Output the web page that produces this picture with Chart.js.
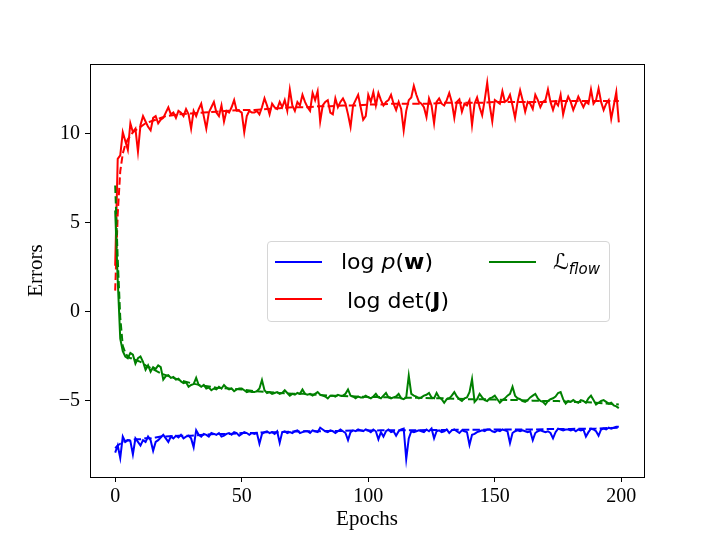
<!DOCTYPE html>
<html>
<head>
<meta charset="utf-8">
<script src="https://cdn.jsdelivr.net/npm/chart.js@4.4.1/dist/chart.umd.min.js"></script>
<style>
  html, body { margin: 0; padding: 0; background: #ffffff; }
  #wrap { position: relative; width: 716px; height: 537px; }
  #legendBox { position: absolute; left: 267px; top: 241px; width: 343px; height: 81px;
    border: 1px solid #d6d6d6; border-radius: 4px; background: rgba(255,255,255,0.8); box-sizing: border-box; }
  .lh { position: absolute; height: 2px; }
  .lt { position: absolute; font-family: "DejaVu Sans", sans-serif; font-size: 22px; line-height: 24px; color: #000; white-space: nowrap; }
  .lt sub { font-size: 15px; vertical-align: -5px; }
</style>
</head>
<body>
<div id="wrap">
  <canvas id="c" width="716" height="537"></canvas>
  <div id="legendBox"></div>
</div>
<script>
// ---------------- data ----------------
const nEpochs = 200;
const epochs = Array.from({ length: nEpochs }, (_, i) => i);

const logDetJ = [
  2.6, 8.6, 8.8, 10.1, 9.6, 9.1, 10.6, 10.1, 10.3, 9.0,
  10.5, 11.0, 10.7, 10.4, 10.2, 10.9, 11.0, 10.6, 10.8, 10.9,
  11.2, 11.5, 11.1, 11.2, 10.9, 11.3, 11.2, 11.0, 11.4, 11.1,
  10.3, 11.3, 11.0, 11.4, 11.7, 11.0, 10.3, 11.2, 11.5, 11.8,
  11.2, 11.0, 11.6, 10.7, 11.3, 11.2, 11.5, 11.9, 11.3, 11.3,
  11.2, 10.1, 11.0, 11.3, 11.2, 11.2, 11.3, 11.1, 11.5, 12.0,
  11.6, 11.1, 11.7, 11.5, 11.4, 11.8, 11.5, 11.9, 11.3, 12.5,
  11.6, 11.3, 11.8, 11.6, 12.2, 11.8, 11.5, 11.3, 12.3, 11.9,
  12.4, 10.7, 11.6, 11.8, 11.9, 11.2, 11.1, 12.0, 11.5, 11.8,
  12.0, 11.7, 11.1, 10.4, 11.6, 11.9, 12.2, 11.5, 10.8, 11.0,
  12.2, 11.8, 12.35, 11.6, 12.3, 11.9, 11.6, 11.8, 11.9, 12.2,
  11.7, 11.35, 11.8, 11.4, 10.2, 11.3, 11.9, 12.05, 12.7, 12.2,
  11.8, 11.7, 11.5, 10.95, 12.0, 11.6, 10.6, 11.8, 12.0, 11.7,
  11.6, 11.9, 12.3, 11.8, 10.9, 11.8, 11.95, 11.25, 11.7, 11.6,
  11.9, 10.5, 11.7, 12.05, 11.5, 11.05, 11.9, 12.88, 11.6, 10.7,
  11.9, 11.8, 11.7, 12.4, 11.8, 11.9, 12.2, 11.6, 10.9, 11.8,
  12.45, 11.9, 11.25, 11.8, 11.7, 11.4, 12.2, 11.9, 11.5, 11.8,
  11.9, 12.5, 11.8, 11.35, 11.8, 11.6, 12.2, 11.1, 11.7, 12.1,
  11.8, 11.35, 11.7, 12.1, 11.8, 11.5, 11.8, 11.7, 12.5, 11.7,
  11.9, 12.55, 11.8, 11.35, 11.7, 11.9, 10.85, 11.6, 12.35, 10.65
];

const lossFlow = [
  5.7, 1.8, -1.5, -2.2, -2.5, -2.6, -2.3, -2.4, -2.9, -2.6,
  -2.5, -2.8, -3.25, -3.0, -3.35, -3.1, -3.2, -3.0, -3.1, -3.8,
  -3.6, -3.55, -3.7, -3.65, -3.8, -3.75, -3.9, -4.0, -3.95, -4.2,
  -4.1, -4.05, -3.7, -4.1, -4.2, -4.1, -4.3, -4.25, -4.4, -4.3,
  -4.35, -4.2, -4.3, -4.1, -4.25, -4.35, -4.3, -4.45, -4.35, -4.3,
  -4.3, -4.4, -4.5, -4.45, -4.5, -4.5, -4.45, -4.3, -3.82, -4.4,
  -4.55, -4.5, -4.6, -4.55, -4.5, -4.6, -4.55, -4.4, -4.55, -4.7,
  -4.6, -4.65, -4.55, -4.6, -4.35, -4.6, -4.65, -4.6, -4.7, -4.6,
  -4.5, -4.65, -4.7, -4.75, -4.85, -4.7, -4.7, -4.75, -4.65, -4.7,
  -4.7, -4.6, -4.35, -4.7, -4.75, -4.85, -4.75, -4.8, -4.8, -4.7,
  -4.8, -4.85, -4.75, -4.6, -4.8, -4.85, -4.7, -4.55, -4.8, -4.85,
  -4.8, -4.75, -4.6, -4.85, -4.9, -4.8, -3.58, -4.6, -4.7, -4.75,
  -4.85, -4.8, -4.7, -4.65, -4.55, -4.8, -4.85, -4.55, -4.8, -4.9,
  -5.1, -4.9, -4.85, -4.7, -4.5, -4.75, -4.9, -5.0, -4.85, -4.8,
  -4.5, -3.77, -5.05, -4.9, -4.6, -4.8, -4.95, -5.0, -4.85, -4.8,
  -4.7, -4.9, -5.1, -4.95, -4.85, -4.7, -4.6, -4.2, -4.7, -4.85,
  -4.9, -5.0, -5.05, -4.95, -4.8, -4.7, -4.6, -4.85, -5.0, -5.05,
  -5.2, -5.0, -4.9, -4.85, -4.75, -4.55, -4.5, -4.9, -5.15, -5.0,
  -5.05, -4.95, -5.05, -5.1, -4.95, -5.0, -5.1, -4.85, -4.7, -4.95,
  -5.2, -5.1, -5.0, -4.95, -5.05, -5.15, -5.1, -5.25, -5.3, -5.4
];

const logPw = [
  -7.9, -7.5, -8.2, -7.0, -7.3, -7.2, -7.25, -8.0, -7.1, -7.3,
  -7.5, -7.2, -7.3, -7.0, -7.2, -7.8, -7.3, -7.2, -7.05, -6.9,
  -7.1, -7.3, -7.0, -7.1, -6.95, -7.05, -6.9, -7.1, -7.0, -6.95,
  -7.1, -7.6, -6.65, -6.9, -7.0, -6.85, -6.9, -7.0, -6.8, -6.85,
  -6.9, -6.8, -7.0, -6.95, -6.85, -6.8, -6.9, -6.75, -6.8, -6.95,
  -6.85, -6.75, -6.8, -6.9, -6.8, -6.85, -6.8, -7.4, -6.85, -6.75,
  -6.7, -6.8, -6.75, -6.85, -6.7, -7.35, -6.75, -6.7, -6.8, -6.75,
  -6.8, -6.7, -6.65, -6.8, -6.75, -6.7, -6.7, -6.8, -6.65, -6.7,
  -6.75, -6.5, -6.6, -6.7, -6.75, -6.65, -6.7, -6.8, -6.7, -6.6,
  -6.7, -6.8, -7.2, -6.75, -6.65, -6.7, -6.6, -6.65, -6.7, -6.6,
  -6.65, -6.75, -6.6, -6.7, -7.15, -6.75, -7.0, -6.7, -6.6, -6.75,
  -6.7, -6.95, -6.7, -6.6, -6.55, -8.26, -7.1, -6.7, -6.75, -6.7,
  -6.65, -6.7, -6.75, -6.6, -6.7, -6.55, -7.1, -6.7, -6.65, -6.75,
  -6.7, -6.6, -6.8, -6.65, -6.6, -6.7, -6.8, -6.65, -6.7, -6.75,
  -7.47, -6.9, -6.85, -6.75, -6.7, -6.65, -6.7, -6.6, -6.6, -6.7,
  -6.75, -6.65, -6.7, -6.6, -6.65, -6.7, -7.36, -6.8, -6.7, -6.65,
  -6.7, -6.65, -6.7, -6.75, -6.7, -7.2, -6.8, -6.7, -6.65, -6.7,
  -6.75, -6.7, -6.8, -7.1, -6.75, -6.55, -6.6, -6.65, -6.6, -6.6,
  -6.65, -6.6, -6.7, -6.6, -6.65, -6.6, -7.0, -6.75, -6.55, -6.6,
  -6.7, -6.95, -6.6, -6.55, -6.6, -6.5, -6.55, -6.5, -6.45, -6.45
];

// dashed (reference / trend) curves
const trendEpochs = [0, 1, 2, 3, 4, 5, 6, 7, 8, 10, 12, 14, 16, 18, 20, 25, 30, 35, 40, 45, 50,
  55, 60, 65, 70, 75, 80, 85, 90, 95, 100, 105, 110, 115, 120, 125, 130, 135, 140, 145, 150,
  155, 160, 165, 170, 175, 180, 185, 190, 195, 199];
const logDetJTrend = [1.2, 5.5, 7.9, 8.9, 9.4, 9.7, 9.9, 10.1, 10.2, 10.4, 10.6, 10.7, 10.8, 10.9, 11.0,
  11.1, 11.15, 11.2, 11.25, 11.3, 11.35, 11.35, 11.4, 11.45, 11.5, 11.5, 11.55, 11.55, 11.6, 11.6,
  11.65, 11.65, 11.7, 11.7, 11.7, 11.7, 11.75, 11.75, 11.75, 11.75, 11.8, 11.8, 11.8, 11.8, 11.8,
  11.85, 11.85, 11.85, 11.85, 11.85, 11.85];
const lossFlowTrend = [7.1, 3.0, -0.3, -1.9, -2.3, -2.5, -2.6, -2.6, -2.7, -2.8, -3.0, -3.15, -3.3, -3.45,
  -3.55, -3.8, -4.0, -4.15, -4.25, -4.3, -4.35, -4.45, -4.5, -4.55, -4.6, -4.6, -4.65, -4.7, -4.72,
  -4.75, -4.78, -4.78, -4.8, -4.82, -4.82, -4.85, -4.85, -4.88, -4.9, -4.9, -4.92, -4.95, -4.95,
  -4.98, -5.0, -5.0, -5.05, -5.05, -5.1, -5.15, -5.2];
const logPwTrend = [-7.65, -7.5, -7.4, -7.3, -7.25, -7.2, -7.2, -7.18, -7.15, -7.15, -7.1, -7.1, -7.05,
  -7.0, -7.0, -6.95, -6.95, -6.9, -6.85, -6.85, -6.8, -6.8, -6.75, -6.75, -6.72, -6.7, -6.7, -6.68,
  -6.68, -6.66, -6.66, -6.65, -6.65, -6.65, -6.64, -6.63, -6.63, -6.62, -6.62, -6.62, -6.6, -6.6,
  -6.6, -6.6, -6.58, -6.58, -6.57, -6.56, -6.55, -6.52, -6.5];

const xTicks = [0, 50, 100, 150, 200];
const yTicks = [-5, 0, 5, 10];

const legendItems = [
  { color: '#0000ff', html: 'log <i>p</i>(<b>w</b>)' },
  { color: '#ff0000', html: 'log det(<b>J</b>)' },
  { color: '#008000', html: 'ℒ<sub><i>flow</i></sub>' }
];

// ---------------- chart ----------------
const pts = (xs, ys) => ys.map((y, i) => ({ x: xs[i], y: y }));
const solid = (data, color) => ({ data, borderColor: color, borderWidth: 2, pointRadius: 0, tension: 0, fill: false });
const dashed = (data, color) => ({ data, borderColor: color, borderWidth: 2, borderDash: [7.4, 3.2], pointRadius: 0, tension: 0, fill: false });

const frame = {
  id: 'frame',
  afterDraw(chart) {
    const { ctx, chartArea: a } = chart;
    ctx.save();
    ctx.strokeStyle = '#000';
    ctx.lineWidth = 1;
    ctx.strokeRect(Math.round(a.left) + 0.5, Math.round(a.top) + 0.5, Math.round(a.right - a.left), Math.round(a.bottom - a.top));
    ctx.restore();
  }
};

const minusFmt = v => (v < 0 ? '\u2212' + Math.abs(v) : String(v));

new Chart(document.getElementById('c'), {
  type: 'line',
  data: {
    datasets: [
      dashed(pts(trendEpochs, lossFlowTrend), '#008000'),
      solid(pts(epochs, lossFlow), '#008000'),
      dashed(pts(trendEpochs, logDetJTrend), '#ff0000'),
      solid(pts(epochs, logDetJ), '#ff0000'),
      dashed(pts(trendEpochs, logPwTrend), '#0000ff'),
      solid(pts(epochs, logPw), '#0000ff')
    ]
  },
  options: {
    responsive: false,
    animation: false,
    layout: { padding: { left: 0, right: 72, top: 64, bottom: 0 } },
    plugins: { legend: { display: false }, tooltip: { enabled: false } },
    scales: {
      x: {
        type: 'linear',
        min: -9.95, max: 208.95,
        afterBuildTicks: s => { s.ticks = xTicks.map(v => ({ value: v })); },
        afterFit: s => { s.height = 60; },
        grid: { drawOnChartArea: false, drawTicks: true, tickLength: 5, color: '#000' },
        border: { display: true, color: '#000', width: 1 },
        ticks: { color: '#000', font: { family: '"Liberation Serif", serif', size: 20 }, padding: 3, maxRotation: 0, callback: v => minusFmt(v) },
        title: { display: true, text: 'Epochs', color: '#000', font: { family: '"Liberation Serif", serif', size: 21 }, padding: { top: 0, bottom: 5 } }
      },
      y: {
        type: 'linear',
        min: -9.27, max: 13.93,
        afterBuildTicks: s => { s.ticks = yTicks.map(v => ({ value: v })); },
        afterFit: s => { s.width = 90; },
        grid: { drawOnChartArea: false, drawTicks: true, tickLength: 5, color: '#000' },
        border: { display: true, color: '#000', width: 1 },
        ticks: { color: '#000', font: { family: '"Liberation Serif", serif', size: 20 }, padding: 5, callback: v => minusFmt(v) },
        title: { display: true, text: 'Errors', color: '#000', font: { family: '"Liberation Serif", serif', size: 21 }, padding: { top: 24, bottom: 0 } }
      }
    }
  },
  plugins: [frame]
});

// ---------------- legend (HTML overlay) ----------------
const wrap = document.getElementById('wrap');
const handlePos = [{ l: 275, t: 261 }, { l: 275, t: 298 }, { l: 489, t: 261 }];
const textPos = [{ l: 341, t: 250 }, { l: 347, t: 289 }, { l: 553, t: 250 }];
legendItems.forEach((it, i) => {
  const h = document.createElement('div');
  h.className = 'lh';
  h.style.left = handlePos[i].l + 'px';
  h.style.top = handlePos[i].t + 'px';
  h.style.width = '47px';
  h.style.background = it.color;
  wrap.appendChild(h);
  const t = document.createElement('div');
  t.className = 'lt';
  t.style.left = textPos[i].l + 'px';
  t.style.top = textPos[i].t + 'px';
  t.innerHTML = it.html;
  wrap.appendChild(t);
});
</script>
</body>
</html>
